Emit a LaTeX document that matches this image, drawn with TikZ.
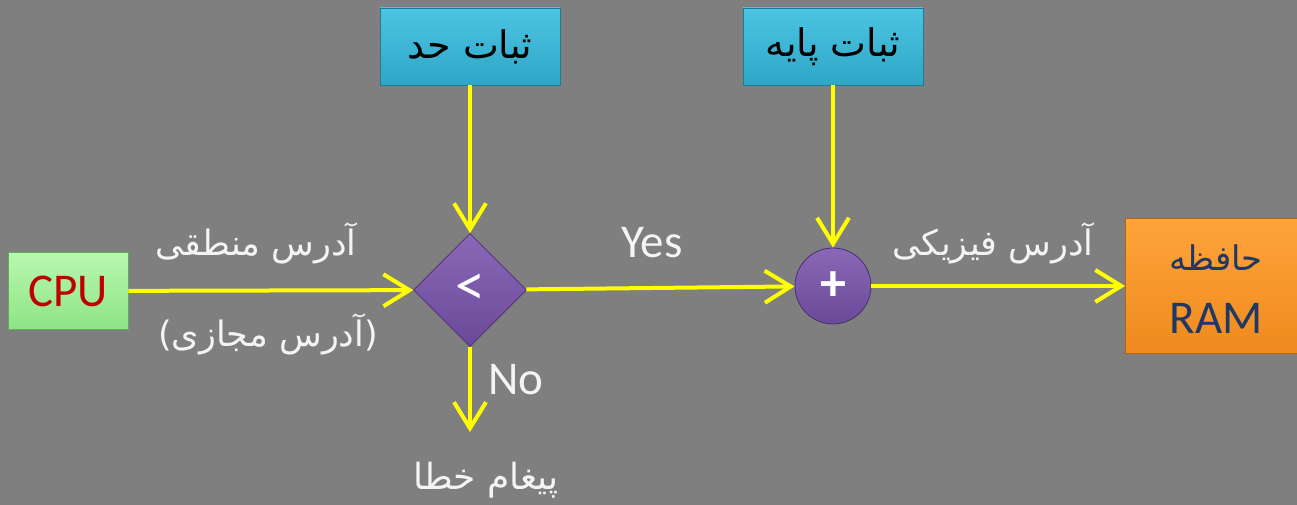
\documentclass[tikz,border=0pt]{standalone}
\usepackage{fontspec}
\setmainfont{Carlito}
\newfontfamily\arabicfont[Script=Arabic]{DejaVu Sans}
\TeXXeTstate=1
\usetikzlibrary{arrows.meta,shapes.geometric,shadows}
\definecolor{bg}{HTML}{7F7F7F}
\definecolor{arrowyellow}{HTML}{FFFF00}
\definecolor{greenA}{HTML}{B8F7B0}
\definecolor{greenB}{HTML}{8EE486}
\definecolor{greenD}{HTML}{5FAF58}
\definecolor{cpuRed}{HTML}{C00000}
\definecolor{cyanA}{HTML}{4CC4E2}
\definecolor{cyanB}{HTML}{2FA6C6}
\definecolor{cyanD}{HTML}{1D7C96}
\definecolor{purA}{HTML}{8A68B8}
\definecolor{purB}{HTML}{6A4A98}
\definecolor{purD}{HTML}{4A2F70}
\definecolor{orA}{HTML}{FFA43A}
\definecolor{orB}{HTML}{EE8A1E}
\definecolor{orD}{HTML}{B8640E}
\definecolor{ramBlue}{HTML}{1F3864}
\definecolor{lblWhite}{HTML}{F4F4F4}
\begin{document}
\begin{tikzpicture}[x=1pt,y=-1pt,
  latin/.style={font=\fontsize{47}{54}\selectfont},
  ar/.style={font=\arabicfont\fontsize{35}{42}\selectfont},
  arbox/.style={font=\arabicfont\fontsize{38}{44}\selectfont},
  shad/.style={drop shadow={opacity=0.35,shadow xshift=2pt,shadow yshift=-3pt}},
  cpubox/.style={shad,draw=greenD,line width=0.8pt,top color=greenA,bottom color=greenB,
    minimum width=120pt,minimum height=77pt,inner sep=0pt,text=cpuRed,latin},
  regbox/.style={shad,draw=cyanD,line width=0.8pt,top color=cyanA,bottom color=cyanB,
    minimum width=180pt,minimum height=77pt,inner sep=0pt,text=black,arbox},
  ramboxstyle/.style={shad,draw=orD,line width=0.8pt,top color=orA,bottom color=orB,
    minimum width=185pt,minimum height=135pt,inner sep=0pt},
  diam/.style={shad,diamond,aspect=1,draw=purD,line width=0.8pt,top color=purA,bottom color=purB,
    minimum width=113pt,minimum height=113pt,inner sep=0pt,text=white,font=\fontsize{60}{60}\selectfont},
  circ/.style={shad,circle,draw=purD,line width=0.8pt,top color=purA,bottom color=purB,
    minimum size=76pt,inner sep=0pt,text=white,font=\fontsize{52}{52}\selectfont\bfseries},
  arr/.style={draw=arrowyellow,line width=4pt,-{Straight Barb[length=26pt,width=32pt,line width=4pt]}},
  lbl/.style={text=lblWhite,inner sep=0pt}
]
\fill[bg] (0,0) rectangle (1297,505);
\useasboundingbox (0,0) rectangle (1297,505);

% nodes
\node[cpubox] (cpu) at (68,291) {CPU};
\node[diam] (dia) at (470,290) {<};
\node[circ] (plus) at (833,286) {+};
\node[regbox] (lim) at (470,46.5) {\beginR ثبات حد\endR};
\node[regbox] (base) at (833,46.5) {\beginR ثبات پایه\endR};
\node[ramboxstyle] (ram) at (1218,286) {};
\node[ar,font=\arabicfont\fontsize{34}{40}\selectfont,text=ramBlue,inner sep=0pt] (ramfa) at (1216,258) {\beginR حافظه\endR};
\node[latin,text=ramBlue,inner sep=0pt] (ramen) at (1216,318) {RAM};
\coordinate (err) at (470,432);

% connectors
\draw[arr] (cpu) -- (dia);
\draw[arr] (dia) -- (plus);
\draw[arr] (plus) -- (ram);
\draw[arr] (lim) -- (dia);
\draw[arr] (base) -- (plus);
\draw[arr] (dia) -- (err);

% labels
\node[lbl,ar] (logaddr) at (256,243) {\beginR آدرس منطقی\endR};
\node[lbl,ar] (virtaddr) at (268,334) {)\beginR آدرس مجازی\endR(};
\node[lbl,latin] (yes) at (652,243) {Yes};
\node[lbl,latin] (no) at (516,380) {No};
\node[lbl,ar] (physaddr) at (993,243) {\beginR آدرس فیزیکی\endR};
\node[lbl,ar,font=\arabicfont\fontsize{36}{42}\selectfont] (errmsg) at (486,480) {\beginR پیغام خطا\endR};
\end{tikzpicture}
\end{document}
